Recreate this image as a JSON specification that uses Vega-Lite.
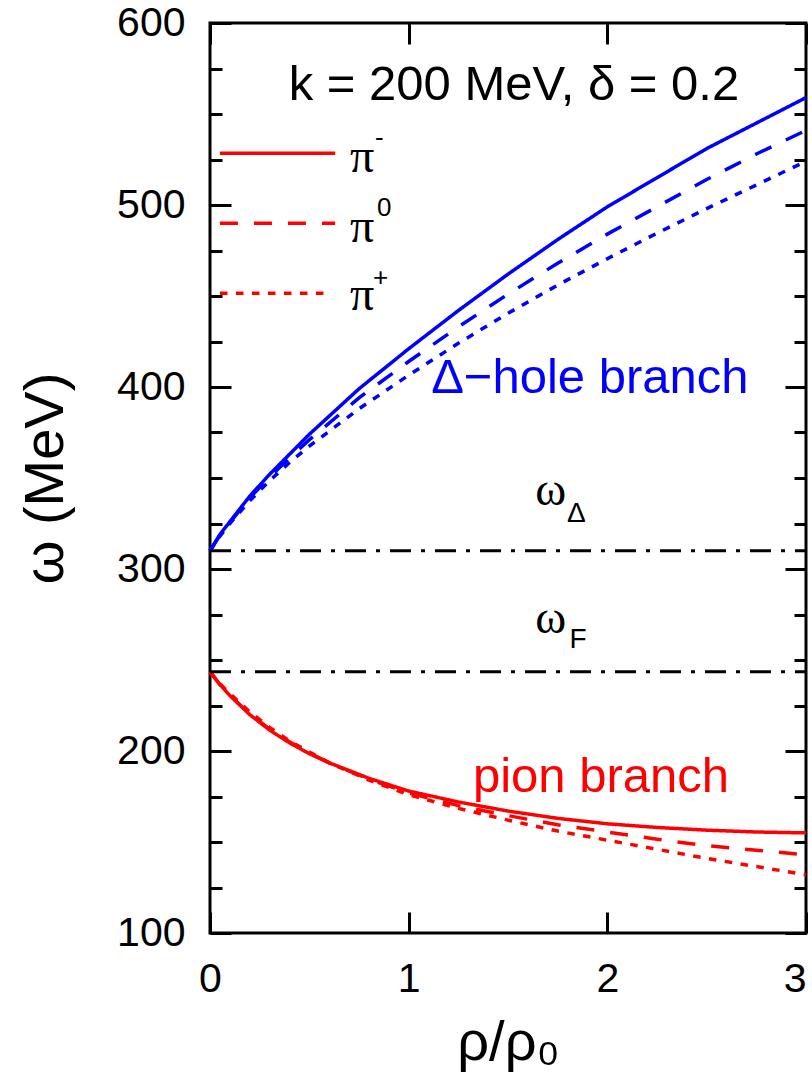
{
  "$schema": "https://vega.github.io/schema/vega-lite/v6.json",
  "width": 596,
  "height": 910,
  "autosize": {"type": "none"},
  "padding": {"left": 210, "top": 23, "right": 6, "bottom": 149},
  "background": "white",
  "config": {
    "view": {"stroke": "black", "strokeWidth": 3},
    "axis": {"labelColor": "black", "titleColor": "black", "labelFont": "Liberation Sans", "titleFont": "Liberation Sans", "titleFontWeight": "normal", "domain": false},
    "text": {"font": "Liberation Sans"}
  },
  "datasets": {
    "curves": [
      {"branch": "delta", "charge": "pi-", "rho": 0, "omega": 310},
      {"branch": "delta", "charge": "pi-", "rho": 0.05, "omega": 319},
      {"branch": "delta", "charge": "pi-", "rho": 0.1, "omega": 326},
      {"branch": "delta", "charge": "pi-", "rho": 0.2, "omega": 340},
      {"branch": "delta", "charge": "pi-", "rho": 0.3, "omega": 352},
      {"branch": "delta", "charge": "pi-", "rho": 0.4, "omega": 363},
      {"branch": "delta", "charge": "pi-", "rho": 0.5, "omega": 374},
      {"branch": "delta", "charge": "pi-", "rho": 0.75, "omega": 399},
      {"branch": "delta", "charge": "pi-", "rho": 1, "omega": 421},
      {"branch": "delta", "charge": "pi-", "rho": 1.25, "omega": 442},
      {"branch": "delta", "charge": "pi-", "rho": 1.5, "omega": 462},
      {"branch": "delta", "charge": "pi-", "rho": 1.75, "omega": 481},
      {"branch": "delta", "charge": "pi-", "rho": 2, "omega": 499},
      {"branch": "delta", "charge": "pi-", "rho": 2.25, "omega": 515},
      {"branch": "delta", "charge": "pi-", "rho": 2.5, "omega": 531},
      {"branch": "delta", "charge": "pi-", "rho": 2.75, "omega": 545},
      {"branch": "delta", "charge": "pi-", "rho": 3, "omega": 559},
      {"branch": "delta", "charge": "pi0", "rho": 0, "omega": 310},
      {"branch": "delta", "charge": "pi0", "rho": 0.05, "omega": 318.5},
      {"branch": "delta", "charge": "pi0", "rho": 0.1, "omega": 325.5},
      {"branch": "delta", "charge": "pi0", "rho": 0.2, "omega": 339},
      {"branch": "delta", "charge": "pi0", "rho": 0.3, "omega": 350.5},
      {"branch": "delta", "charge": "pi0", "rho": 0.4, "omega": 361},
      {"branch": "delta", "charge": "pi0", "rho": 0.5, "omega": 371},
      {"branch": "delta", "charge": "pi0", "rho": 0.75, "omega": 394},
      {"branch": "delta", "charge": "pi0", "rho": 1, "omega": 414},
      {"branch": "delta", "charge": "pi0", "rho": 1.25, "omega": 433},
      {"branch": "delta", "charge": "pi0", "rho": 1.5, "omega": 451},
      {"branch": "delta", "charge": "pi0", "rho": 1.75, "omega": 468},
      {"branch": "delta", "charge": "pi0", "rho": 2, "omega": 484},
      {"branch": "delta", "charge": "pi0", "rho": 2.25, "omega": 499},
      {"branch": "delta", "charge": "pi0", "rho": 2.5, "omega": 514},
      {"branch": "delta", "charge": "pi0", "rho": 2.75, "omega": 528},
      {"branch": "delta", "charge": "pi0", "rho": 3, "omega": 541},
      {"branch": "delta", "charge": "pi+", "rho": 0, "omega": 310},
      {"branch": "delta", "charge": "pi+", "rho": 0.05, "omega": 318},
      {"branch": "delta", "charge": "pi+", "rho": 0.1, "omega": 325},
      {"branch": "delta", "charge": "pi+", "rho": 0.2, "omega": 337.5},
      {"branch": "delta", "charge": "pi+", "rho": 0.3, "omega": 348.5},
      {"branch": "delta", "charge": "pi+", "rho": 0.4, "omega": 358.5},
      {"branch": "delta", "charge": "pi+", "rho": 0.5, "omega": 367.5},
      {"branch": "delta", "charge": "pi+", "rho": 0.75, "omega": 388},
      {"branch": "delta", "charge": "pi+", "rho": 1, "omega": 406.5},
      {"branch": "delta", "charge": "pi+", "rho": 1.25, "omega": 424},
      {"branch": "delta", "charge": "pi+", "rho": 1.5, "omega": 440.5},
      {"branch": "delta", "charge": "pi+", "rho": 1.75, "omega": 456},
      {"branch": "delta", "charge": "pi+", "rho": 2, "omega": 470.5},
      {"branch": "delta", "charge": "pi+", "rho": 2.25, "omega": 484.5},
      {"branch": "delta", "charge": "pi+", "rho": 2.5, "omega": 498},
      {"branch": "delta", "charge": "pi+", "rho": 2.75, "omega": 511},
      {"branch": "delta", "charge": "pi+", "rho": 3, "omega": 524},
      {"branch": "pion", "charge": "pi-", "rho": 0, "omega": 243.5},
      {"branch": "pion", "charge": "pi-", "rho": 0.05, "omega": 236.5},
      {"branch": "pion", "charge": "pi-", "rho": 0.1, "omega": 230.5},
      {"branch": "pion", "charge": "pi-", "rho": 0.2, "omega": 220},
      {"branch": "pion", "charge": "pi-", "rho": 0.3, "omega": 211.5},
      {"branch": "pion", "charge": "pi-", "rho": 0.4, "omega": 204.5},
      {"branch": "pion", "charge": "pi-", "rho": 0.5, "omega": 198.5},
      {"branch": "pion", "charge": "pi-", "rho": 0.6, "omega": 193.5},
      {"branch": "pion", "charge": "pi-", "rho": 0.8, "omega": 185},
      {"branch": "pion", "charge": "pi-", "rho": 1, "omega": 178},
      {"branch": "pion", "charge": "pi-", "rho": 1.25, "omega": 172},
      {"branch": "pion", "charge": "pi-", "rho": 1.5, "omega": 167},
      {"branch": "pion", "charge": "pi-", "rho": 1.75, "omega": 163},
      {"branch": "pion", "charge": "pi-", "rho": 2, "omega": 160},
      {"branch": "pion", "charge": "pi-", "rho": 2.25, "omega": 158},
      {"branch": "pion", "charge": "pi-", "rho": 2.5, "omega": 156.5},
      {"branch": "pion", "charge": "pi-", "rho": 2.75, "omega": 155.5},
      {"branch": "pion", "charge": "pi-", "rho": 3, "omega": 155},
      {"branch": "pion", "charge": "pi0", "rho": 0, "omega": 243.5},
      {"branch": "pion", "charge": "pi0", "rho": 0.05, "omega": 236.5},
      {"branch": "pion", "charge": "pi0", "rho": 0.1, "omega": 230.5},
      {"branch": "pion", "charge": "pi0", "rho": 0.2, "omega": 220.5},
      {"branch": "pion", "charge": "pi0", "rho": 0.3, "omega": 212},
      {"branch": "pion", "charge": "pi0", "rho": 0.4, "omega": 205},
      {"branch": "pion", "charge": "pi0", "rho": 0.5, "omega": 199},
      {"branch": "pion", "charge": "pi0", "rho": 0.6, "omega": 193.5},
      {"branch": "pion", "charge": "pi0", "rho": 0.8, "omega": 184.5},
      {"branch": "pion", "charge": "pi0", "rho": 1, "omega": 177},
      {"branch": "pion", "charge": "pi0", "rho": 1.25, "omega": 170},
      {"branch": "pion", "charge": "pi0", "rho": 1.5, "omega": 164.5},
      {"branch": "pion", "charge": "pi0", "rho": 1.75, "omega": 159.5},
      {"branch": "pion", "charge": "pi0", "rho": 2, "omega": 155.5},
      {"branch": "pion", "charge": "pi0", "rho": 2.25, "omega": 151.5},
      {"branch": "pion", "charge": "pi0", "rho": 2.5, "omega": 148},
      {"branch": "pion", "charge": "pi0", "rho": 2.75, "omega": 145.5},
      {"branch": "pion", "charge": "pi0", "rho": 3, "omega": 143},
      {"branch": "pion", "charge": "pi+", "rho": 0, "omega": 243.5},
      {"branch": "pion", "charge": "pi+", "rho": 0.05, "omega": 237},
      {"branch": "pion", "charge": "pi+", "rho": 0.1, "omega": 231.5},
      {"branch": "pion", "charge": "pi+", "rho": 0.2, "omega": 221.5},
      {"branch": "pion", "charge": "pi+", "rho": 0.3, "omega": 213},
      {"branch": "pion", "charge": "pi+", "rho": 0.4, "omega": 205.5},
      {"branch": "pion", "charge": "pi+", "rho": 0.5, "omega": 199.5},
      {"branch": "pion", "charge": "pi+", "rho": 0.6, "omega": 193.5},
      {"branch": "pion", "charge": "pi+", "rho": 0.8, "omega": 184},
      {"branch": "pion", "charge": "pi+", "rho": 1, "omega": 176},
      {"branch": "pion", "charge": "pi+", "rho": 1.25, "omega": 168.5},
      {"branch": "pion", "charge": "pi+", "rho": 1.5, "omega": 162},
      {"branch": "pion", "charge": "pi+", "rho": 1.75, "omega": 156},
      {"branch": "pion", "charge": "pi+", "rho": 2, "omega": 151},
      {"branch": "pion", "charge": "pi+", "rho": 2.25, "omega": 146},
      {"branch": "pion", "charge": "pi+", "rho": 2.5, "omega": 141},
      {"branch": "pion", "charge": "pi+", "rho": 2.75, "omega": 136.5},
      {"branch": "pion", "charge": "pi+", "rho": 3, "omega": 132}
    ],
    "legend": [
      {"charge": "pi-", "rho": 0.05, "omega": 528.5},
      {"charge": "pi-", "rho": 0.63, "omega": 528.5},
      {"charge": "pi0", "rho": 0.05, "omega": 490},
      {"charge": "pi0", "rho": 0.63, "omega": 490},
      {"charge": "pi+", "rho": 0.05, "omega": 451.5},
      {"charge": "pi+", "rho": 0.6, "omega": 451.5}
    ],
    "levels": [
      {"name": "omega_Delta", "rho": 0, "omega": 310},
      {"name": "omega_Delta", "rho": 3, "omega": 310},
      {"name": "omega_F", "rho": 0, "omega": 243.5},
      {"name": "omega_F", "rho": 3, "omega": 243.5}
    ],
    "title": [{"text": "k = 200 MeV, δ = 0.2", "rho": 1.53, "omega": 557.7}],
    "deltaLabel": [{"text": "Δ−hole branch", "rho": 1.912, "omega": 396.7}],
    "pionLabel": [{"text": "pion branch", "rho": 1.968, "omega": 177.6}],
    "omegas": [
      {"text": "ω", "rho": 1.715, "omega": 335},
      {"text": "ω", "rho": 1.715, "omega": 264.8}
    ],
    "subs": [
      {"text": "Δ", "rho": 1.797, "omega": 325.8},
      {"text": "F", "rho": 1.81, "omega": 256.6}
    ],
    "pis": [
      {"text": "π", "rho": 0.705, "omega": 518.1},
      {"text": "π", "rho": 0.705, "omega": 479.7},
      {"text": "π", "rho": 0.705, "omega": 442.3}
    ],
    "sups": [
      {"text": "-", "rho": 0.83, "omega": 532.4},
      {"text": "0", "rho": 0.84, "omega": 494},
      {"text": "+", "rho": 0.82, "omega": 455.7}
    ]
  },
  "encoding": {
    "x": {"field": "rho", "type": "quantitative", "scale": {"domain": [0, 3], "nice": false, "zero": false},
      "axis": {"orient": "bottom", "values": [0, 0.5, 1, 1.5, 2, 2.5, 3], "ticks": false, "tickSize": 0,
        "labelExpr": "datum.value % 1 === 0 ? datum.label : ''",
        "labelPadding": 26, "labelFontSize": 41, "labelFlush": false, "labelOverlap": false, "format": "d",
        "labelAlign": {"condition": {"test": "datum.value === 3", "value": "right"}, "value": "center"},
        "grid": true, "gridColor": "black", "gridOpacity": 1, "gridWidth": 3,
        "gridDash": {"condition": {"test": "datum.value % 1 === 0", "value": [21, 868, 21, 3000]}, "value": [10, 890, 10, 3000]},
        "title": "ρ/ρ₀", "titleFontSize": 56, "titlePadding": 16}},
    "y": {"field": "omega", "type": "quantitative", "scale": {"domain": [100, 600], "nice": false, "zero": false},
      "axis": {"orient": "left", "values": [100, 125, 150, 175, 200, 225, 250, 275, 300, 325, 350, 375, 400, 425, 450, 475, 500, 525, 550, 575, 600], "ticks": false, "tickSize": 0,
        "labelExpr": "datum.value % 100 === 0 ? datum.label : ''",
        "labelPadding": 25, "labelFontSize": 41, "labelFlush": false, "labelOverlap": false, "format": "d",
        "grid": true, "gridColor": "black", "gridOpacity": 1, "gridWidth": 3,
        "gridDash": {"condition": {"test": "datum.value % 100 === 0", "value": [21, 554, 21, 3000]}, "value": [12, 572, 12, 3000]},
        "title": "ω (MeV)", "titleFontSize": 56, "titlePadding": 42}}
  },
  "layer": [
    {
      "data": {"name": "curves"},
      "mark": {"type": "line", "strokeWidth": 3.5, "strokeCap": "butt"},
      "encoding": {
        "color": {"field": "branch", "type": "nominal", "scale": {"domain": ["delta", "pion"], "range": ["#0000ff", "#ff0000"]}, "legend": null},
        "strokeDash": {"field": "charge", "type": "nominal", "scale": {"domain": ["pi-", "pi0", "pi+"], "range": [[1, 0], [18, 16], [7.5, 8.5]]}, "legend": null}
      }
    },
    {
      "data": {"name": "legend"},
      "mark": {"type": "line", "strokeWidth": 3.5, "strokeCap": "butt", "color": "#ff0000"},
      "encoding": {
        "strokeDash": {"field": "charge", "type": "nominal", "legend": null}
      }
    },
    {
      "data": {"name": "levels"},
      "mark": {"type": "line", "strokeWidth": 3, "strokeDash": [21, 10, 4, 10], "color": "black"},
      "encoding": {
        "detail": {"field": "name", "type": "nominal"}
      }
    },
    {
      "data": {"name": "title"},
      "mark": {"type": "text", "fontSize": 49, "align": "center", "baseline": "alphabetic", "color": "black"},
      "encoding": {"text": {"field": "text"}}
    },
    {
      "data": {"name": "deltaLabel"},
      "mark": {"type": "text", "fontSize": 49, "align": "center", "baseline": "alphabetic", "color": "#0000ff"},
      "encoding": {"text": {"field": "text"}}
    },
    {
      "data": {"name": "pionLabel"},
      "mark": {"type": "text", "fontSize": 49, "align": "center", "baseline": "alphabetic", "color": "#ff0000"},
      "encoding": {"text": {"field": "text"}}
    },
    {
      "data": {"name": "omegas"},
      "mark": {"type": "text", "font": "Liberation Serif", "fontSize": 47, "align": "center", "baseline": "alphabetic", "color": "black"},
      "encoding": {"text": {"field": "text"}}
    },
    {
      "data": {"name": "subs"},
      "mark": {"type": "text", "fontSize": 28, "align": "left", "baseline": "alphabetic", "color": "black"},
      "encoding": {"text": {"field": "text"}}
    },
    {
      "data": {"name": "pis"},
      "mark": {"type": "text", "font": "Liberation Serif", "fontSize": 48, "align": "left", "baseline": "alphabetic", "color": "black"},
      "encoding": {"text": {"field": "text"}}
    },
    {
      "data": {"name": "sups"},
      "mark": {"type": "text", "fontSize": 26, "align": "left", "baseline": "alphabetic", "color": "black"},
      "encoding": {"text": {"field": "text"}}
    }
  ]
}
